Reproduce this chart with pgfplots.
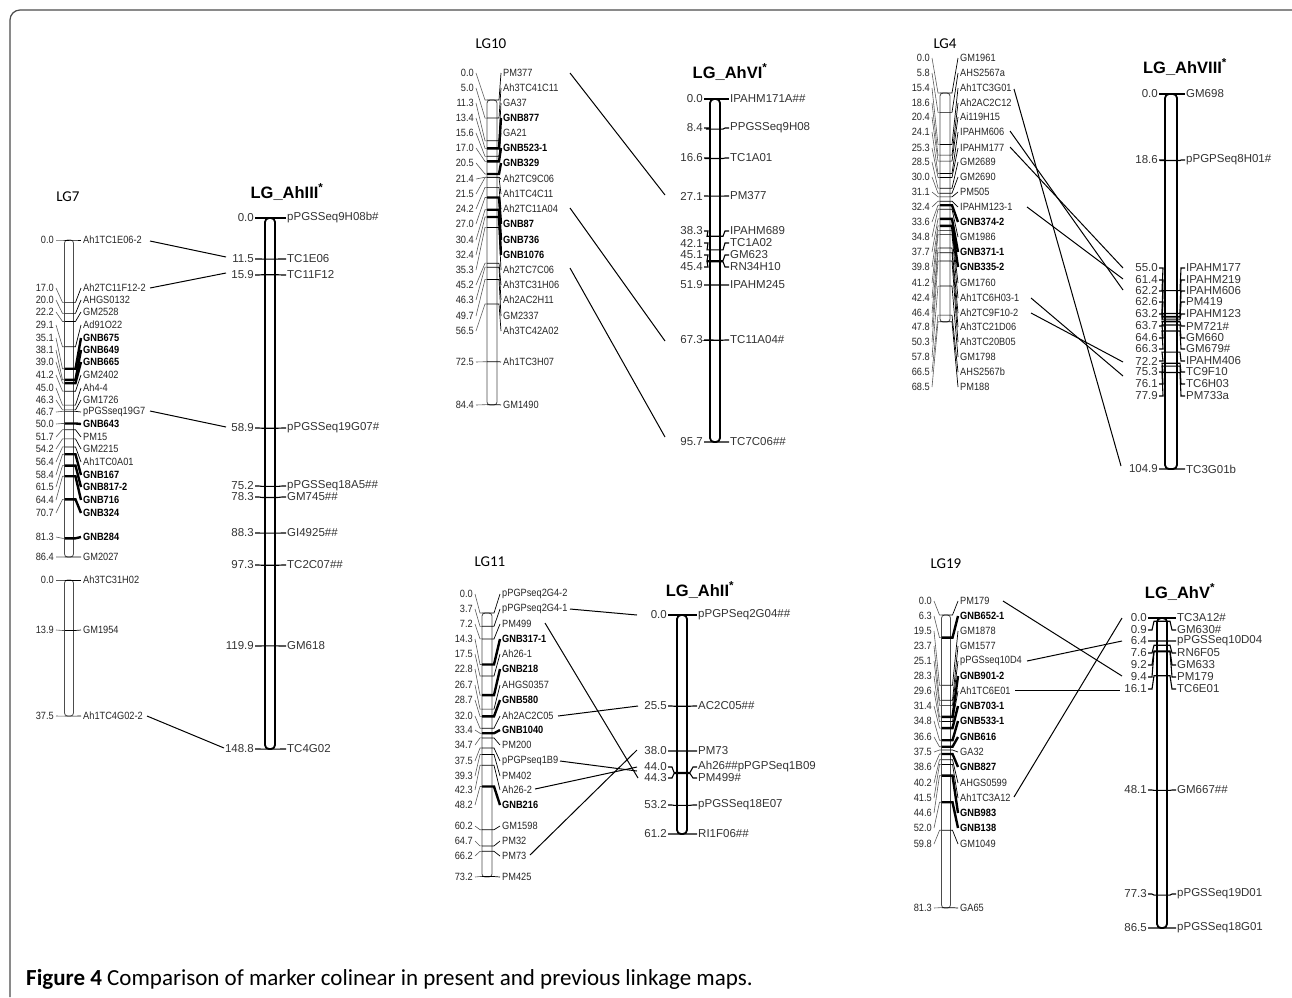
\documentclass[border=0pt]{standalone}
\usepackage{pgfplots}
\pgfplotsset{compat=1.18}
\usepackage{fontspec}
\setmainfont{Liberation Sans}
\newfontfamily\narrow[FakeStretch=0.88]{Liberation Sans}
\newfontfamily\calib{Carlito}
\newcommand\pfont{\narrow\fontsize{10.5}{12}\selectfont}
\newcommand\vfont{\fontsize{11.5}{13}\selectfont}

\tikzset{
  lnk/.style={draw=black!65, line width=0.6pt, mark=none},
  ptk/.style={draw=black, line width=1.1pt, mark=none},
  cbarp/.style={draw=black!70, line width=0.8pt, fill=white, rounded corners=3pt, mark=none},
  cbarv/.style={draw=black, line width=1.8pt, fill=white, rounded corners=4pt, mark=none},
  numL/.style={anchor=east, inner sep=0pt, font=\pfont, text=black!85},
  nmR/.style={anchor=west, inner sep=0pt, font=\pfont, text=black!85},
  nmRb/.style={anchor=west, inner sep=0pt, font=\pfont\bfseries},
  vnum/.style={anchor=east, inner sep=0pt, font=\vfont, text=black!80},
  vnm/.style={anchor=west, inner sep=0pt, font=\vfont, text=black!80},
  ttl/.style={anchor=center, inner sep=0pt, font=\fontsize{16.5}{18}\selectfont\bfseries},
  ttp/.style={anchor=center, inner sep=0pt, font=\calib\fontsize{15}{17}\selectfont},
  cnx/.style={draw=black, line width=1pt, mark=none},
}

% chromosome settings: centre x, half width, number edge, name edge, y of 0 cM, px per cM
\newcommand\setchr[6]{\def\Xc{#1}\def\Hw{#2}\def\XnL{#3}\def\XnR{#4}\def\Yz{#5}\def\Sc{#6}}

\newcommand\cbar[3]{%
  \pgfmathsetmacro\xa{\Xc-\Hw}\pgfmathsetmacro\xb{\Xc+\Hw}%
  \edef\tmp{\noexpand\addplot[#3] coordinates {(\xa,#1) (\xb,#1) (\xb,#2) (\xa,#2)} -- cycle;}\tmp}

% present map marker: pos, label y, name, tick width, name style
\newcommand\mkcore[5]{%
  \pgfmathsetmacro\yt{\Yz+\Sc*#1}%
  \pgfmathsetmacro\xa{\Xc-\Hw}\pgfmathsetmacro\xb{\Xc+\Hw}%
  \pgfmathsetmacro\xl{\XnL+2}\pgfmathsetmacro\xr{\XnR-2}%
  \pgfmathsetmacro\xaa{\xa-2}\pgfmathsetmacro\xbb{\xb+2}%
  \edef\tmp{%
    \noexpand\addplot[lnk] coordinates {(\xl,#2) (\xaa,\yt) (\xa,\yt)};
    \noexpand\addplot[draw=black, line width=#4, mark=none] coordinates {(\xa,\yt) (\xb,\yt) (\xbb,\yt) (\xr,#2)};
    \noexpand\node[numL] at (axis cs:\XnL,#2) {#1};
    \noexpand\node[#5] at (axis cs:\XnR,#2) {\unexpanded{#3}};}%
  \tmp}
\newcommand\mk[3]{\mkcore{#1}{#2}{#3}{0.7pt}{nmR}}
\newcommand\mkb[3]{\mkcore{#1}{#2}{#3}{2.4pt}{nmRb}}

% previous map marker: pos, label y, name
\newcommand\pv[3]{%
  \pgfmathsetmacro\yt{\Yz+\Sc*#1}%
  \pgfmathsetmacro\xa{\Xc-\Hw-3}\pgfmathsetmacro\xb{\Xc+\Hw+3}%
  \pgfmathsetmacro\xl{\XnL+1}\pgfmathsetmacro\xr{\XnR-1}%
  \pgfmathsetmacro\xll{\XnL+5}\pgfmathsetmacro\xrr{\XnR-5}%
  \edef\tmp{%
    \noexpand\addplot[ptk] coordinates {(\xl,#2) (\xll,#2) (\xa,\yt) (\xb,\yt) (\xrr,#2) (\xr,#2)};
    \noexpand\node[vnum] at (axis cs:\XnL,#2) {#1};
    \noexpand\node[vnm] at (axis cs:\XnR,#2) {\unexpanded{#3}};}%
  \tmp}

\begin{document}
\begin{tikzpicture}
\begin{axis}[
  scale only axis, width=1292pt, height=997pt,
  xmin=0, xmax=1292, ymin=0, ymax=997, y dir=reverse,
  axis lines=none, clip=false,
]
% frame
\addplot[draw=black!70, line width=1.2pt, rounded corners=10pt, mark=none] coordinates {(10,997) (10,10) (1292,10)};

% ---------------- LG7 ----------------
\node[ttp] at (axis cs:68,197) {LG7};
\setchr{69}{4.5}{54}{83}{240}{3.669}
\cbar{240}{557}{cbarp}
\mk{0.0}{240}{Ah1TC1E06-2}
\mk{17.0}{288}{Ah2TC11F12-2}
\mk{20.0}{300}{AHGS0132}
\mk{22.2}{312}{GM2528}
\mk{29.1}{325}{Ad91O22}
\mkb{35.1}{338}{GNB675}
\mkb{38.1}{350}{GNB649}
\mkb{39.0}{362}{GNB665}
\mk{41.2}{375}{GM2402}
\mk{45.0}{388}{Ah4-4}
\mk{46.3}{400}{GM1726}
\mk{46.7}{412}{pPGSseq19G7}
\mkb{50.0}{424}{GNB643}
\mk{51.7}{437}{PM15}
\mk{54.2}{449}{GM2215}
\mk{56.4}{462}{Ah1TC0A01}
\mkb{58.4}{475}{GNB167}
\mkb{61.5}{487}{GNB817-2}
\mkb{64.4}{500}{GNB716}
\mkb{70.7}{513}{GNB324}
\mkb{81.3}{537}{GNB284}
\mk{86.4}{557}{GM2027}
\setchr{69}{4.5}{54}{83}{580}{3.63}
\cbar{580}{716}{cbarp}
\mk{0.0}{580}{Ah3TC31H02}
\mk{13.9}{630}{GM1954}
\mk{37.5}{716}{Ah1TC4G02-2}

% ---------------- LG_AhIII ----------------
\node[ttl] at (axis cs:287,192) {LG\_AhIII\textsuperscript{*}};
\setchr{270}{5}{254}{287}{218}{3.569}
\cbar{218}{749}{cbarv}
\pv{0.0}{218}{pPGSSeq9H08b\#}
\pv{11.5}{259}{TC1E06}
\pv{15.9}{275}{TC11F12}
\pv{58.9}{428}{pPGSSeq19G07\#}
\pv{75.2}{486}{pPGSSeq18A5\#\#}
\pv{78.3}{497}{GM745\#\#}
\pv{88.3}{533}{GI4925\#\#}
\pv{97.3}{565}{TC2C07\#\#}
\pv{119.9}{646}{GM618}
\pv{148.8}{749}{TC4G02}
\addplot[cnx] coordinates {(150,241) (226,257)};
\addplot[cnx] coordinates {(150,288) (226,273)};
\addplot[cnx] coordinates {(150,411) (226,427)};
\addplot[cnx] coordinates {(147,716) (224,748)};

% ---------------- LG10 ----------------
\node[ttp] at (axis cs:491,44) {LG10};
\setchr{492}{5}{474}{503}{100}{3.61}
\cbar{100}{405}{cbarp}
\mk{0.0}{73}{PM377}
\mk{5.0}{88}{Ah3TC41C11}
\mk{11.3}{103}{GA37}
\mkb{13.4}{118}{GNB877}
\mk{15.6}{133}{GA21}
\mkb{17.0}{148}{GNB523-1}
\mkb{20.5}{163}{GNB329}
\mk{21.4}{179}{Ah2TC9C06}
\mk{21.5}{194}{Ah1TC4C11}
\mk{24.2}{209}{Ah2TC11A04}
\mkb{27.0}{224}{GNB87}
\mkb{30.4}{240}{GNB736}
\mkb{32.4}{255}{GNB1076}
\mk{35.3}{270}{Ah2TC7C06}
\mk{45.2}{285}{Ah3TC31H06}
\mk{46.3}{300}{Ah2AC2H11}
\mk{49.7}{316}{GM2337}
\mk{56.5}{331}{Ah3TC42A02}
\mk{72.5}{362}{Ah1TC3H07}
\mk{84.4}{405}{GM1490}

% ---------------- LG_AhVI ----------------
\node[ttl] at (axis cs:730,72) {LG\_AhVI\textsuperscript{*}};
\setchr{715}{5}{703}{730}{99}{3.584}
\cbar{99}{442}{cbarv}
\pv{0.0}{99}{IPAHM171A\#\#}
\pv{8.4}{128}{PPGSSeq9H08}
\pv{16.6}{158}{TC1A01}
\pv{27.1}{196}{PM377}
\pv{38.3}{231}{IPAHM689}
\pv{42.1}{243}{TC1A02}
\pv{45.1}{255}{GM623}
\pv{45.4}{267}{RN34H10}
\pv{51.9}{285}{IPAHM245}
\pv{67.3}{340}{TC11A04\#}
\pv{95.7}{442}{TC7C06\#\#}
\addplot[cnx] coordinates {(570,73) (665,195)};
\addplot[cnx] coordinates {(570,208) (665,341)};
\addplot[cnx] coordinates {(570,268) (665,437)};

% ---------------- LG4 ----------------
\node[ttp] at (axis cs:945,44) {LG4};
\setchr{945}{5}{930}{960}{93}{3.34}
\cbar{93}{322}{cbarp}
\mk{0.0}{58}{GM1961}
\mk{5.8}{73}{AHS2567a}
\mk{15.4}{88}{Ah1TC3G01}
\mk{18.6}{103}{Ah2AC2C12}
\mk{20.4}{117}{Ai119H15}
\mk{24.1}{132}{IPAHM606}
\mk{25.3}{148}{IPAHM177}
\mk{28.5}{162}{GM2689}
\mk{30.0}{177}{GM2690}
\mk{31.1}{192}{PM505}
\mk{32.4}{207}{IPAHM123-1}
\mkb{33.6}{222}{GNB374-2}
\mk{34.8}{237}{GM1986}
\mkb{37.7}{252}{GNB371-1}
\mkb{39.8}{267}{GNB335-2}
\mk{41.2}{283}{GM1760}
\mk{42.4}{298}{Ah1TC6H03-1}
\mk{46.4}{313}{Ah2TC9F10-2}
\mk{47.8}{327}{Ah3TC21D06}
\mk{50.3}{342}{Ah3TC20B05}
\mk{57.8}{357}{GM1798}
\mk{66.5}{372}{AHS2567b}
\mk{68.5}{387}{PM188}

% ---------------- LG_AhVIII ----------------
\node[ttl] at (axis cs:1185,67) {LG\_AhVIII\textsuperscript{*}};
\setchr{1171}{6}{1158}{1186}{94}{3.575}
\cbar{94}{469}{cbarv}
\pv{0.0}{94}{GM698}
\pv{18.6}{160}{pPGPSeq8H01\#}
\pv{55.0}{268}{IPAHM177}
\pv{61.4}{280}{IPAHM219}
\pv{62.2}{291}{IPAHM606}
\pv{62.6}{302}{PM419}
\pv{63.2}{314}{IPAHM123}
\pv{63.7}{326}{PM721\#}
\pv{64.6}{338}{GM660}
\pv{66.3}{349}{GM679\#}
\pv{72.2}{361}{IPAHM406}
\pv{75.3}{372}{TC9F10}
\pv{76.1}{384}{TC6H03}
\pv{77.9}{396}{PM733a}
\pv{104.9}{469}{TC3G01b}
\addplot[cnx] coordinates {(1014,89) (1121,466)};
\addplot[cnx] coordinates {(1010,131) (1123,290)};
\addplot[cnx] coordinates {(1010,147) (1123,268)};
\addplot[cnx] coordinates {(1027,207) (1123,279)};
\addplot[cnx] coordinates {(1031,298) (1123,376)};
\addplot[cnx] coordinates {(1031,313) (1123,362)};

% ---------------- LG11 ----------------
\node[ttp] at (axis cs:490,562) {LG11};
\setchr{487}{5}{473}{502}{613}{3.6}
\cbar{613}{877}{cbarp}
\mk{0.0}{594}{pPGPseq2G4-2}
\mk{3.7}{609}{pPGPseq2G4-1}
\mk{7.2}{624}{PM499}
\mkb{14.3}{639}{GNB317-1}
\mk{17.5}{654}{Ah26-1}
\mkb{22.8}{669}{GNB218}
\mk{26.7}{685}{AHGS0357}
\mkb{28.7}{700}{GNB580}
\mk{32.0}{716}{Ah2AC2C05}
\mkb{33.4}{730}{GNB1040}
\mk{34.7}{745}{PM200}
\mk{37.5}{761}{pPGPseq1B9}
\mk{39.3}{776}{PM402}
\mk{42.3}{790}{Ah26-2}
\mkb{48.2}{805}{GNB216}
\mk{60.2}{826}{GM1598}
\mk{64.7}{841}{PM32}
\mk{66.2}{856}{PM73}
\mk{73.2}{877}{PM425}

% ---------------- LG_AhII ----------------
\node[ttl] at (axis cs:700,590) {LG\_AhII\textsuperscript{*}};
\setchr{682}{5}{667}{698}{615}{3.578}
\cbar{615}{834}{cbarv}
\pv{0.0}{615}{pPGPSeq2G04\#\#}
\pv{25.5}{706}{AC2C05\#\#}
\pv{38.0}{751}{PM73}
\pv{44.0}{767}{Ah26\#\#pPGPSeq1B09}
\pv{44.3}{778}{PM499\#}
\pv{53.2}{805}{pPGSSeq18E07}
\pv{61.2}{834}{RI1F06\#\#}
\addplot[cnx] coordinates {(570,609) (637,615)};
\addplot[cnx] coordinates {(545,623) (638,778)};
\addplot[cnx] coordinates {(558,716) (638,706)};
\addplot[cnx] coordinates {(560,761) (637,771)};
\addplot[cnx] coordinates {(535,789) (637,767)};
\addplot[cnx] coordinates {(530,855) (637,750)};

% ---------------- LG19 ----------------
\node[ttp] at (axis cs:946,564) {LG19};
\setchr{946}{4.5}{932}{960}{615}{3.6}
\cbar{615}{908}{cbarp}
\mk{0.0}{601}{PM179}
\mkb{6.3}{616}{GNB652-1}
\mk{19.5}{631}{GM1878}
\mk{23.7}{646}{GM1577}
\mk{25.1}{661}{pPGSseq10D4}
\mkb{28.3}{676}{GNB901-2}
\mk{29.6}{691}{Ah1TC6E01}
\mkb{31.4}{706}{GNB703-1}
\mkb{34.8}{721}{GNB533-1}
\mkb{36.6}{737}{GNB616}
\mk{37.5}{752}{GA32}
\mkb{38.6}{767}{GNB827}
\mk{40.2}{783}{AHGS0599}
\mk{41.5}{798}{Ah1TC3A12}
\mkb{44.6}{813}{GNB983}
\mkb{52.0}{828}{GNB138}
\mk{59.8}{844}{GM1049}
\mk{81.3}{908}{GA65}

% ---------------- LG_AhV ----------------
\node[ttl] at (axis cs:1180,592) {LG\_AhV\textsuperscript{*}};
\setchr{1162}{5}{1147}{1177}{618}{3.584}
\cbar{618}{928}{cbarv}
\pv{0.0}{618}{TC3A12\#}
\pv{0.9}{630}{GM630\#}
\pv{6.4}{641}{pPGSSeq10D04}
\pv{7.6}{653}{RN6F05}
\pv{9.2}{665}{GM633}
\pv{9.4}{677}{PM179}
\pv{16.1}{689}{TC6E01}
\pv{48.1}{790}{GM667\#\#}
\pv{77.3}{894}{pPGSSeq19D01}
\pv{86.5}{928}{pPGSSeq18G01}
\addplot[cnx] coordinates {(1003,601) (1122,676)};
\addplot[cnx] coordinates {(1027,661) (1122,641)};
\addplot[cnx] coordinates {(1015,690) (1120,690)};
\addplot[cnx] coordinates {(1014,797) (1122,618)};

% caption
\node[anchor=west, inner sep=0pt, font=\calib\fontsize{23}{25}\selectfont] at (axis cs:26,979)
  {\textbf{Figure 4} Comparison of marker colinear in present and previous linkage maps.};
\end{axis}
\pgfresetboundingbox
\path (current axis.south west) rectangle (current axis.north east);
\end{tikzpicture}
\end{document}
